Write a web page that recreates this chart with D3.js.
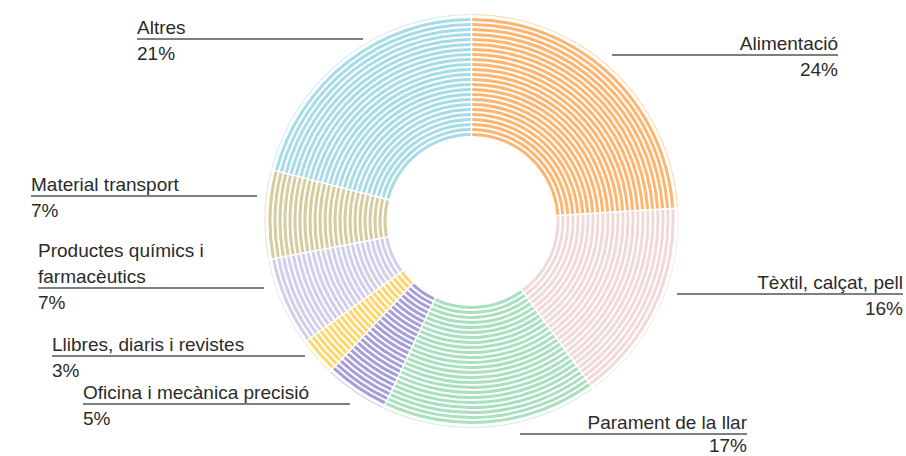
<!DOCTYPE html>
<html>
<head>
<meta charset="utf-8">
<script src="https://cdn.jsdelivr.net/npm/d3@7"></script>
<style>
  body { margin: 0; background: #fff; }
  text { font-family: "Liberation Sans", Arial, sans-serif; font-size: 19px; fill: #2b2b2b; }
</style>
</head>
<body>
<div id="chart"></div>
<script>
// Data
const categories = ["Alimentació", "Tèxtil, calçat, pell", "Parament de la llar", "Oficina i mecànica precisió",
  "Llibres, diaris i revistes", "Productes químics i farmacèutics", "Material transport", "Altres"];
const values = [24, 16, 17, 5, 3, 7, 7, 21];
const labelLines = [["Alimentació"], ["Tèxtil, calçat, pell"], ["Parament de la llar"], ["Oficina i mecànica precisió"],
  ["Llibres, diaris i revistes"], ["Productes químics i", "farmacèutics"], ["Material transport"], ["Altres"]];

const colors = ["#fdb56f", "#f1d9d9", "#aadfc0", "#a69ed6", "#fdd76b", "#d3cee9", "#d5cca0", "#a6dce6"];

// label layout: side, anchor x, underline y, other end of underline
const labelLayout = [
  { side: "right", x: 838, y: 55, end: 612 },
  { side: "right", x: 903, y: 294, end: 677 },
  { side: "right", x: 747, y: 434, end: 520 },
  { side: "left", x: 83, y: 404, end: 350 },
  { side: "left", x: 52, y: 356, end: 305 },
  { side: "left", x: 38, y: 288, end: 264 },
  { side: "left", x: 31, y: 196, end: 257 },
  { side: "left", x: 137, y: 39, end: 363 }
];

const width = 906, height = 456;
const cx = 471.5, cy = 221;
const innerR = 85, ringStep = 5, ringWidth = 3, nRings = 24;

const svg = d3.select("#chart")
  .append("svg")
  .attr("width", width)
  .attr("height", height);

const data = categories.map((c, i) => ({ name: c, value: values[i], color: colors[i], i }));

const pie = d3.pie()
  .value(d => d.value)
  .sort(null);

const arcs = pie(data);

const g = svg.append("g")
  .attr("transform", `translate(${cx},${cy})`);

// striped rings
const seg = g.selectAll("g.seg")
  .data(arcs)
  .join("g")
  .attr("class", "seg");

seg.selectAll("path.ring")
  .data(d => d3.range(nRings).map(k => ({ arc: d, k })))
  .join("path")
  .attr("class", "ring")
  .attr("fill", d => d.arc.data.color)
  .attr("d", d => d3.arc()
    .innerRadius(innerR + d.k * ringStep)
    .outerRadius(innerR + d.k * ringStep + ringWidth)
    .padAngle(0.016)
    .padRadius(100)(d.arc));

// faint outer outline
seg.append("path")
  .attr("fill", d => d.data.color)
  .attr("opacity", 0.55)
  .attr("d", d => d3.arc()
    .innerRadius(206)
    .outerRadius(207)
    .padAngle(0.016)
    .padRadius(100)(d));

// labels
const lab = svg.selectAll("g.label")
  .data(data)
  .join("g")
  .attr("class", "label");

lab.append("line")
  .attr("x1", d => labelLayout[d.i].x)
  .attr("x2", d => labelLayout[d.i].end)
  .attr("y1", d => labelLayout[d.i].y)
  .attr("y2", d => labelLayout[d.i].y)
  .attr("stroke", "#555")
  .attr("stroke-width", 1.3);

lab.each(function(d) {
  const L = labelLayout[d.i];
  const anchor = L.side === "right" ? "end" : "start";
  const lines = labelLines[d.i];
  const sel = d3.select(this);
  lines.forEach((t, j) => {
    sel.append("text")
      .attr("x", L.x)
      .attr("y", L.y - 5 - (lines.length - 1 - j) * 26)
      .attr("text-anchor", anchor)
      .text(t);
  });
  sel.append("text")
    .attr("x", L.x)
    .attr("y", Math.min(L.y + 21, height - 4))
    .attr("text-anchor", anchor)
    .text(d.value + "%");
});
</script>
</body>
</html>
